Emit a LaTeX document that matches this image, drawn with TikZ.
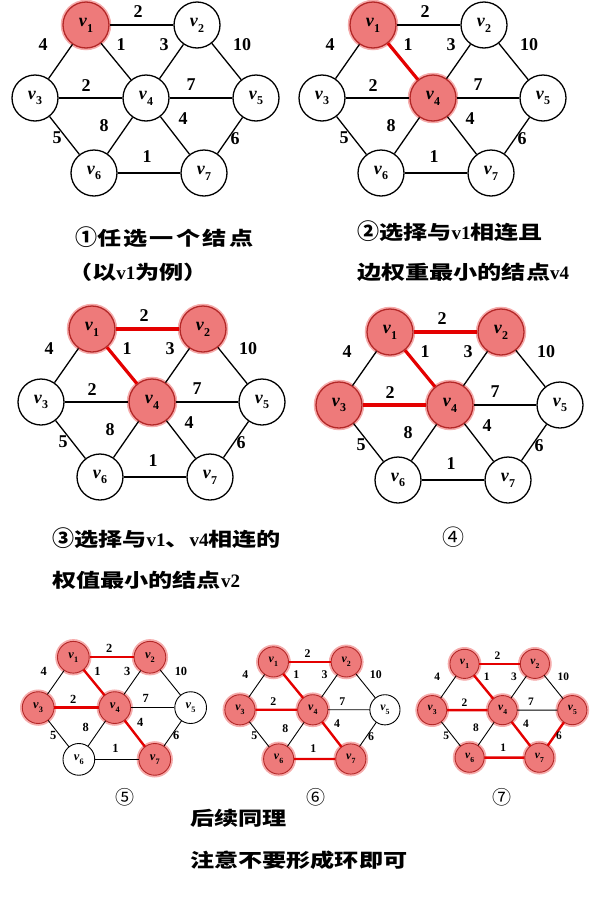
\documentclass[tikz,border=0pt]{standalone}
\usepackage{fontspec}
\setmainfont{Liberation Serif}
\newfontfamily\cjk[FakeStretch=1.27]{Noto Sans CJK SC}
\newfontfamily\cjkc{Noto Sans CJK SC}
\definecolor{nodered}{RGB}{238,122,122}
\definecolor{nodeedge}{RGB}{180,40,40}
\definecolor{halo}{RGB}{246,172,172}
\definecolor{edgered}{RGB}{228,0,0}
\newcommand\vl[1]{\bfseries\itshape v\kern0.3pt\raisebox{-0.32em}{\upshape\fontsize{12}{12}\selectfont #1}}
\newcommand\lat[1]{{\rmfamily\fontsize{19}{19}\selectfont #1}}
\newcommand\circd[1]{{\cjkc\fontsize{22}{22}\selectfont #1}}
\tikzset{
  vnode/.style={circle, draw=black, line width=1.3pt, fill=white, minimum size=46pt, inner sep=0pt, font=\fontsize{18}{18}\selectfont},
  rednode/.style={fill=nodered, draw=nodeedge, preaction={draw=halo, line width=4.5pt}},
  gedge/.style={draw=black, line width=1.3pt},
  rededge/.style={draw=edgered, line width=3.2pt},
  wlab/.style={font=\fontsize{18}{18}\selectfont\bfseries, inner sep=0pt},
  capt/.style={anchor=west, inner sep=0pt, font=\cjk\fontsize{19}{19}\selectfont\bfseries},
  small/.style={transform shape, gedge/.append style={line width=0.9pt}, rededge/.append style={line width=2.4pt}, vnode/.append style={line width=0.9pt}, rednode/.append style={preaction={draw=halo, line width=3.5pt}}}
}
\newcommand\drawgraph[1]{%
  \node[vnode,hl1/.try] (#1v1) at (86,25) {\vl{1}};
  \node[vnode,hl2/.try] (#1v2) at (197,25) {\vl{2}};
  \node[vnode,hl3/.try] (#1v3) at (35,98) {\vl{3}};
  \node[vnode,hl4/.try] (#1v4) at (146,98) {\vl{4}};
  \node[vnode,hl5/.try] (#1v5) at (256,98) {\vl{5}};
  \node[vnode,hl6/.try] (#1v6) at (94,173) {\vl{6}};
  \node[vnode,hl7/.try] (#1v7) at (204,173) {\vl{7}};
  \draw[gedge,e12/.try] (#1v1) -- (#1v2);
  \draw[gedge,e13/.try] (#1v1) -- (#1v3);
  \draw[gedge,e14/.try] (#1v1) -- (#1v4);
  \draw[gedge,e24/.try] (#1v2) -- (#1v4);
  \draw[gedge,e25/.try] (#1v2) -- (#1v5);
  \draw[gedge,e34/.try] (#1v3) -- (#1v4);
  \draw[gedge,e45/.try] (#1v4) -- (#1v5);
  \draw[gedge,e36/.try] (#1v3) -- (#1v6);
  \draw[gedge,e46/.try] (#1v4) -- (#1v6);
  \draw[gedge,e47/.try] (#1v4) -- (#1v7);
  \draw[gedge,e57/.try] (#1v5) -- (#1v7);
  \draw[gedge,e67/.try] (#1v6) -- (#1v7);
  \node[wlab] (#1w12) at (138,12) {2};
  \node[wlab] (#1w13) at (43,45) {4};
  \node[wlab] (#1w14) at (121,45) {1};
  \node[wlab] (#1w24) at (164,45) {3};
  \node[wlab] (#1w25) at (242,45) {10};
  \node[wlab] (#1w34) at (86,86) {2};
  \node[wlab] (#1w45) at (191,85) {7};
  \node[wlab] (#1w46) at (104,126) {8};
  \node[wlab] (#1w47) at (183,119) {4};
  \node[wlab] (#1w36) at (57,138) {5};
  \node[wlab] (#1w57) at (235,139) {6};
  \node[wlab] (#1w67) at (147,157) {1};
}
\begin{document}
\begin{tikzpicture}[x=1pt,y=-1pt]
\useasboundingbox (0,0) rectangle (600,900);
\fill[white] (0,0) rectangle (600,900);
% panel 1
\begin{scope}[hl1/.style=rednode]
  \drawgraph{a}
\end{scope}
% panel 2
\begin{scope}[shift={(287,0)}, hl1/.style=rednode, hl4/.style=rednode, e14/.style=rededge]
  \drawgraph{b}
\end{scope}
% panel 3
\begin{scope}[shift={(6,304)}, hl1/.style=rednode, hl2/.style=rednode, hl4/.style=rednode, e12/.style=rededge, e14/.style=rededge]
  \drawgraph{c}
\end{scope}
% panel 4
\begin{scope}[shift={(304,307)}, hl1/.style=rednode, hl2/.style=rednode, hl3/.style=rednode, hl4/.style=rednode, e12/.style=rededge, e14/.style=rededge, e34/.style=rededge]
  \drawgraph{d}
\end{scope}
% panel 5
\begin{scope}[shift={(14,640)}, scale=0.69, small, hl1/.style=rednode, hl2/.style=rednode, hl3/.style=rednode, hl4/.style=rednode, hl7/.style=rednode, e12/.style=rededge, e14/.style=rededge, e34/.style=rededge, e47/.style=rededge]
  \drawgraph{e}
\end{scope}
% panel 6
\begin{scope}[shift={(217,645.5)}, scale=0.656, small, hl1/.style=rednode, hl2/.style=rednode, hl3/.style=rednode, hl4/.style=rednode, hl6/.style=rednode, hl7/.style=rednode, e12/.style=rededge, e14/.style=rededge, e34/.style=rededge, e47/.style=rededge, e67/.style=rededge]
  \drawgraph{f}
\end{scope}
% panel 7
\begin{scope}[shift={(410,648)}, scale=0.634, small, hl1/.style=rednode, hl2/.style=rednode, hl3/.style=rednode, hl4/.style=rednode, hl5/.style=rednode, hl6/.style=rednode, hl7/.style=rednode, e12/.style=rededge, e14/.style=rededge, e34/.style=rededge, e47/.style=rededge, e67/.style=rededge, e57/.style=rededge]
  \drawgraph{g}
\end{scope}
% captions
\node[capt] (c1a) at (75,237) {\circd{①}\addfontfeatures{LetterSpace=12}任选一个结点};
\node[capt] (c1b) at (68,272) {（以\lat{v1}为例）};
\node[capt] (c2a) at (357,231) {\circd{②}选择与\lat{v1}相连且};
\node[capt] (c2b) at (357,272) {边权重最小的结点\lat{v4}};
\node[capt] (c3a) at (52,538) {\circd{③}选择与\lat{v1}、\lat{v4}相连的};
\node[capt] (c3b) at (52,580) {权值最小的结点\lat{v2}};
\node[inner sep=0pt, font=\cjkc\fontsize{22}{22}\selectfont] (c4) at (453,537) {④};
\node[inner sep=0pt, font=\cjkc\fontsize{19}{19}\selectfont] (c5) at (125,797) {⑤};
\node[inner sep=0pt, font=\cjkc\fontsize{19}{19}\selectfont] (c6) at (316,797) {⑥};
\node[inner sep=0pt, font=\cjkc\fontsize{19}{19}\selectfont] (c7) at (502,797) {⑦};
\node[capt] (t1) at (190,818) {后续同理};
\node[capt] (t2) at (190,860) {注意不要形成环即可};
\end{tikzpicture}
\end{document}
